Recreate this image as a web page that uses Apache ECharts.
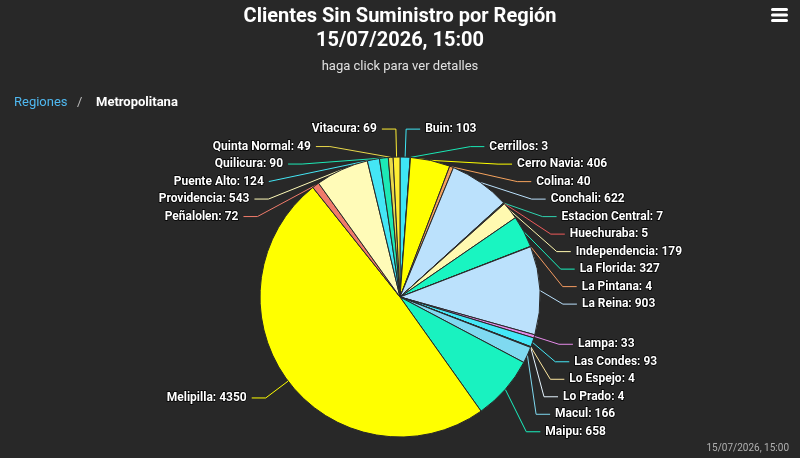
<!DOCTYPE html>
<html>
<head>
<meta charset="utf-8">
<script src="https://cdn.jsdelivr.net/npm/echarts@6/dist/echarts.min.js"></script>
<style>
html,body{margin:0;padding:0;background:#282828;}
#chart{width:800px;height:458px;}
</style>
</head>
<body>
<div id="chart"></div>
<script>
const comunas = ['Buin','Cerrillos','Cerro Navia','Colina','Conchali','Estacion Central','Huechuraba','Independencia','La Florida','La Pintana','La Reina','Lampa','Las Condes','Lo Espejo','Lo Prado','Macul','Maipu','Melipilla','Peñalolen','Providencia','Puente Alto','Quilicura','Quinta Normal','Vitacura'];
const clientes = [103,3,406,40,622,7,5,179,327,4,903,33,93,4,4,166,658,4350,72,543,124,90,49,69];
const colores = ['#3ee6f5','#19e8b5','#ffff00','#f5a25d','#bbe1fc','#2fd3b0','#ef5b5b','#fff9b0','#19f5c1','#f59b61','#bbe1fc','#e58ae8','#45e8f7','#ffe8a0','#e6f4ff','#7fd9f0','#19f2c0','#ffff00','#f07b6b','#fffbb8','#44e6f5','#1de9b6','#e8d84a','#ffee33'];
const titulo = 'Clientes Sin Suministro por Región';
const fecha = '15/07/2026, 15:00';
const subtitulo = 'haga click para ver detalles';

const chart = echarts.init(document.getElementById('chart'));
chart.setOption({
  backgroundColor: '#282828',
  animation: false,
  title: [
    {text: titulo + '\n' + fecha, left: 'center', top: 0,
     textStyle: {color: '#ffffff', fontFamily: 'Roboto', fontWeight: 'bold', fontSize: 20, lineHeight: 24}},
    {text: subtitulo, left: 'center', top: 55,
     textStyle: {color: '#e0e0e0', fontFamily: 'Roboto', fontWeight: 'normal', fontSize: 13}},
    {text: fecha, right: 6, bottom: 0,
     textStyle: {color: '#b0b0b0', fontFamily: 'Roboto', fontWeight: 'normal', fontSize: 10}}
  ],
  graphic: [
    {type: 'text', left: 14, top: 96, style: {text: 'Regiones', fill: '#4fb8f0', font: '13px Roboto'}},
    {type: 'text', left: 77, top: 96, style: {text: '/', fill: '#bbbbbb', font: '13px Roboto'}},
    {type: 'text', left: 96, top: 96, style: {text: 'Metropolitana', fill: '#ffffff', font: 'bold 13px Roboto'}},
    {type: 'rect', left: 771, top: 8, shape: {width: 17, height: 3, r: 1.5}, style: {fill: '#ffffff'}},
    {type: 'rect', left: 771, top: 13.5, shape: {width: 17, height: 3, r: 1.5}, style: {fill: '#ffffff'}},
    {type: 'rect', left: 771, top: 19, shape: {width: 17, height: 3, r: 1.5}, style: {fill: '#ffffff'}}
  ],
  series: [{
    type: 'pie',
    center: [400, 297],
    radius: [0, 140],
    startAngle: 90,
    clockwise: true,
    avoidLabelOverlap: true,
    itemStyle: {borderColor: '#282828', borderWidth: 1},
    label: {
      show: true,
      position: 'outside',
      formatter: '{b}: {c}',
      color: '#ffffff',
      fontFamily: 'Roboto',
      fontWeight: 'bold',
      fontSize: 12,
      lineHeight: 15.5,
      textBorderColor: '#000000',
      textBorderWidth: 1.5
    },
    labelLine: {show: true, length: 28, length2: 14, lineStyle: {width: 1}},
    data: comunas.map((n, i) => ({name: n, value: clientes[i], itemStyle: {color: colores[i]}}))
  }]
});
</script>
</body>
</html>
